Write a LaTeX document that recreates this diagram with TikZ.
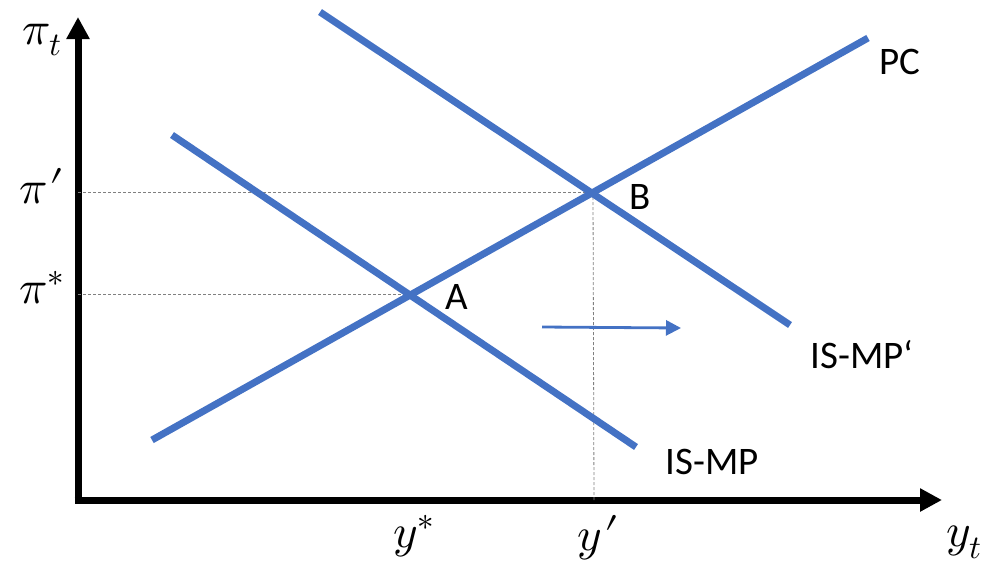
\documentclass[tikz,border=0pt]{standalone}
\usepackage{fontspec}
\usepackage{unicode-math}
\setmainfont{Carlito}
\setmathfont{Latin Modern Math}
\usetikzlibrary{arrows.meta}
\definecolor{ublue}{HTML}{4472C4}
\newcommand{\bigprime}{\mkern1mu\mathord{\prime}}
\begin{document}
\begin{tikzpicture}[x=1pt,y=-1pt,
  curve/.style={draw=ublue,line width=7pt},
  guide/.style={draw=gray,dashed,line width=0.8pt,dash pattern=on 3pt off 2pt},
  axis/.style={draw=black,line width=7pt,-{Triangle[length=22pt,width=22pt]}},
  lbl/.style={font=\fontsize{39}{39}\selectfont},
  mlbl/.style={font=\fontsize{47}{47}\selectfont}]
\useasboundingbox (0,0) rectangle (990,566);
\coordinate (O) at (78,500);
\coordinate (Ytop) at (78,17);
\coordinate (Xend) at (942,500);
\draw[axis] (78,503.5) -- (Ytop);
\draw[axis] (74.5,500) -- (Xend);
% curves
\coordinate (PC1) at (152,440);
\coordinate (PC2) at (868,38);
\coordinate (IS1) at (172,135);
\coordinate (IS2) at (636,447);
\coordinate (ISp1) at (320,12);
\coordinate (ISp2) at (790,325);
\coordinate (A) at (408,294);
\coordinate (B) at (593,192);
\coordinate (piA) at (78,294);
\coordinate (piB) at (78,192);
\coordinate (yB) at (594,500);
\draw[guide] (piA) -- (A);
\draw[guide] (piB) -- (B);
\draw[guide] (B) -- (yB);
\draw[curve] (PC1) -- (PC2);
\draw[curve] (IS1) -- (IS2);
\draw[curve] (ISp1) -- (ISp2);
\coordinate (s1) at (542,327);
\coordinate (s2) at (681,328);
\draw[ublue,line width=2.8pt,-{Triangle[length=15pt,width=15pt]}] (s1) -- (s2);
% labels
\node[mlbl] (lpit) at (42,40) {$\pi_t$};
\node[mlbl] (lpip) at (42,186) {$\pi\bigprime$};
\node[mlbl] (lpis) at (42,288) {$\pi^*$};
\node[mlbl] (lys) at (414,536) {$y^*$};
\node[mlbl] (lyp) at (598,538) {$y\bigprime$};
\node[mlbl] (lyt) at (964,542) {$y_t$};
\node[lbl] (lPC) at (900,62) {PC};
\node[lbl] (lB) at (640,197) {B};
\node[lbl] (lA) at (457,297) {A};
\node[lbl] (lISp) at (862,355) {IS-MP‘};
\node[lbl] (lIS) at (712,462) {IS-MP};
\end{tikzpicture}
\end{document}
